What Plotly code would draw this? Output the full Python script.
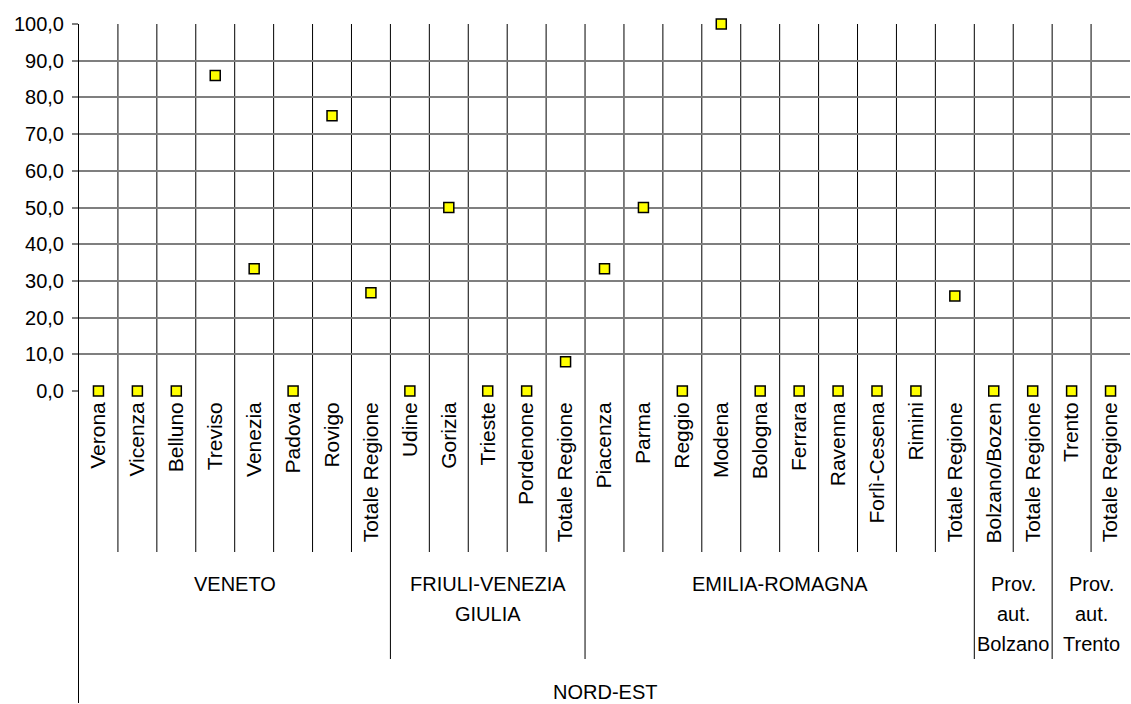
import plotly.graph_objects as go

# ---- data ----
categories = ["Verona", "Vicenza", "Belluno", "Treviso", "Venezia", "Padova", "Rovigo", "Totale Regione",
              "Udine", "Gorizia", "Trieste", "Pordenone", "Totale Regione",
              "Piacenza", "Parma", "Reggio", "Modena", "Bologna", "Ferrara", "Ravenna", "Forlì-Cesena", "Rimini", "Totale Regione",
              "Bolzano/Bozen", "Totale Regione",
              "Trento", "Totale Regione"]
values = [0.0, 0.0, 0.0, 86.0, 33.3, 0.0, 75.0, 26.8,
          0.0, 50.0, 0.0, 0.0, 8.0,
          33.3, 50.0, 0.0, 100.0, 0.0, 0.0, 0.0, 0.0, 0.0, 25.9,
          0.0, 0.0,
          0.0, 0.0]
group_names = ["VENETO", "FRIULI-VENEZIA\nGIULIA", "EMILIA-ROMAGNA", "Prov.\naut.\nBolzano", "Prov.\naut.\nTrento"]
group_sizes = [8, 5, 10, 2, 2]
top_group = "NORD-EST"
y_ticks = [0, 10, 20, 30, 40, 50, 60, 70, 80, 90, 100]

FONT = "Arial, Liberation Sans, sans-serif"
n = len(categories)
xs = list(range(n))

# plot area geometry (pixels)
W, H = 1131, 704
M_L, M_R, M_T, M_B = 79, 1, 24, 313
plot_h = H - M_T - M_B


def py(pix):
    """pixel y (from top of page) -> paper coordinate"""
    return (H - M_B - pix) / plot_h


fig = go.Figure()
fig.add_trace(go.Scatter(
    x=xs, y=values, mode="markers",
    marker=dict(symbol="square", size=10, color="#FFFF00", line=dict(color="black", width=1.5)),
    cliponaxis=False, hoverinfo="skip", showlegend=False,
))

shapes = []
# vertical gridlines inside the plot at category boundaries
for i in range(n - 1):
    shapes.append(dict(type="line", xref="x", yref="paper", x0=i + 0.5, x1=i + 0.5, y0=0, y1=1,
                       line=dict(color="black", width=1), layer="below"))

# group boundaries
bounds = []
acc = 0
for s in group_sizes:
    acc += s
    bounds.append(acc)
group_bound_set = set(b - 0.5 for b in bounds[:-1])

# separators in the category label zone
for i in range(n - 1):
    b = i + 0.5
    y_end = py(659) if b in group_bound_set else py(552)
    shapes.append(dict(type="line", xref="x", yref="paper", x0=b, x1=b, y0=0, y1=y_end,
                       line=dict(color="black", width=1)))
# left edge (top level) line, aligned with the y axis line
shapes.append(dict(type="line", xref="paper", yref="paper", xsizemode="pixel", xanchor=0,
                   x0=-0.5, x1=-0.5, y0=0, y1=py(703),
                   line=dict(color="black", width=1)))

annotations = []
start = 0
for name, s in zip(group_names, group_sizes):
    center = start + (s - 1) / 2
    for k, line in enumerate(name.split("\n")):
        annotations.append(dict(xref="x", yref="paper", x=center, y=py(571), yanchor="top",
                                yshift=-30 * k, text=line, showarrow=False,
                                font=dict(family=FONT, size=20, color="black")))
    start += s
annotations.append(dict(xref="x", yref="paper", x=(n - 1) / 2, y=py(679), yanchor="top",
                        text=top_group, showarrow=False,
                        font=dict(family=FONT, size=20, color="black")))

fig.update_layout(
    width=W, height=H,
    margin=dict(l=M_L, r=M_R, t=M_T, b=M_B, pad=0),
    paper_bgcolor="white", plot_bgcolor="white",
    separators=",.",
    shapes=shapes, annotations=annotations,
    xaxis=dict(
        range=[-0.5, n - 0.5], tickmode="array", tickvals=xs, ticktext=categories,
        tickangle=-90, showgrid=False, zeroline=False, showline=False, ticks="",
        ticklabelstandoff=6,
        tickfont=dict(family=FONT, size=21, color="black"),
    ),
    yaxis=dict(
        range=[0, 100], tickmode="array", tickvals=y_ticks, tickformat=".1f",
        showgrid=True, gridcolor="#7f7f7f", gridwidth=1.5, zeroline=False,
        showline=True, linecolor="black", linewidth=1,
        ticks="outside", ticklen=6, tickcolor="#7f7f7f", tickwidth=1.5,
        ticklabelstandoff=4,
        tickfont=dict(family=FONT, size=20, color="black"),
    ),
)

fig.write_html("out.html", config={"displayModeBar": False},
               post_script="document.body.style.margin='0';document.body.style.padding='0';")
